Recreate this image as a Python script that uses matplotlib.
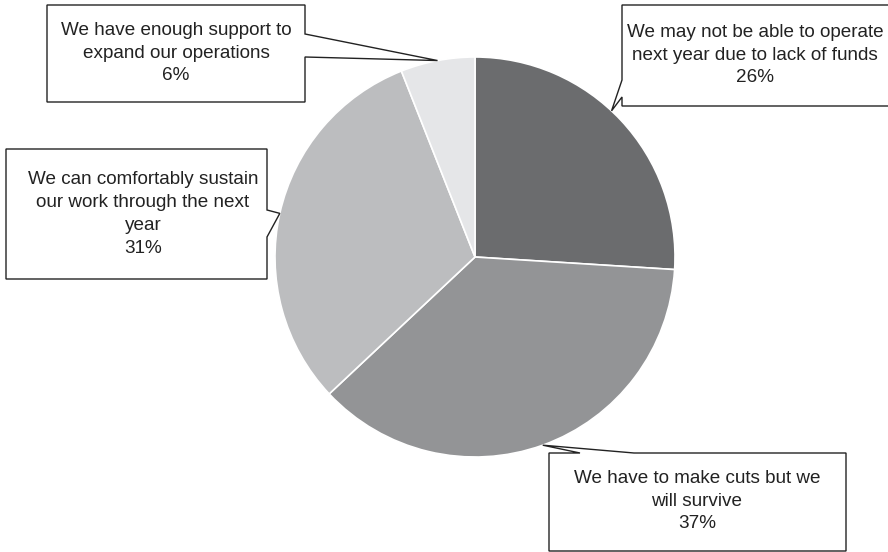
import numpy as np
import matplotlib
matplotlib.use("Agg")
import matplotlib.pyplot as plt
from matplotlib.patches import Polygon

plt.rcParams['font.family'] = ['Liberation Sans', 'DejaVu Sans']

labels = [
    "We may not be able to operate\nnext year due to lack of funds",
    "We have to make cuts but we\nwill survive",
    "We can comfortably sustain\nour work through the next\nyear",
    "We have enough support to\nexpand our operations",
]
shares = [26, 37, 31, 6]
colors = ['#6b6c6e', '#939496', '#bcbdbf', '#e5e6e8']
# where the callout pointer touches each slice (fraction of the slice, clockwise)
leader_frac = [0.46, 0.5, 0.5, 0.5]

W, H = 888, 552
fig = plt.figure(figsize=(W / 100, H / 100), dpi=100)
ax = fig.add_axes([0, 0, 1, 1])

cx, cy, r = 475, H - 257, 200
wedges, _ = ax.pie(shares, colors=colors, startangle=90, counterclock=False,
                   center=(cx, cy), radius=r,
                   wedgeprops=dict(edgecolor='white', linewidth=1.2))
ax.set_xlim(0, W)
ax.set_ylim(0, H)
ax.set_aspect('equal')
ax.axis('off')

# callout boxes in pixel coords (top-left origin): x0, x1, y0, y1, side, p1, p2, text center
boxes = [
    (622, 905, 5, 106, 'left', 80, 97, (755, 55)),
    (549, 846, 453, 551, 'top', 580, 634, (697, 501)),
    (6, 267, 149, 279, 'right', 210, 237, (143, 214)),
    (47, 305, 5, 102, 'right', 34, 57, (176, 53)),
]


def fy(y):
    return H - y


for w, lab, val, frac, b in zip(wedges, labels, shares, leader_frac, boxes):
    x0, x1, y0, y1, side, p1, p2, (tx, ty) = b
    # clockwise: start at theta2, move toward theta1
    ang = np.deg2rad(w.theta2 - frac * (w.theta2 - w.theta1))
    tip = (cx + r * np.cos(ang), cy + r * np.sin(ang))
    if side == 'left':
        pts = [(x0, fy(y0)), (x1, fy(y0)), (x1, fy(y1)), (x0, fy(y1)),
               (x0, fy(p2)), tip, (x0, fy(p1))]
    elif side == 'right':
        pts = [(x0, fy(y0)), (x1, fy(y0)), (x1, fy(p1)), tip, (x1, fy(p2)),
               (x1, fy(y1)), (x0, fy(y1))]
    else:
        pts = [(x0, fy(y0)), (p1, fy(y0)), tip, (p2, fy(y0)), (x1, fy(y0)),
               (x1, fy(y1)), (x0, fy(y1))]
    ax.add_patch(Polygon(pts, closed=True, facecolor='white', edgecolor='#222222',
                         linewidth=1.0, zorder=3, clip_on=False))
    ax.text(tx, fy(ty), f"{lab}\n{val}%", ha='center', va='center',
            fontsize=13.6, color='#222222', linespacing=1.46, zorder=4)

fig.savefig("out.png", dpi=100)
